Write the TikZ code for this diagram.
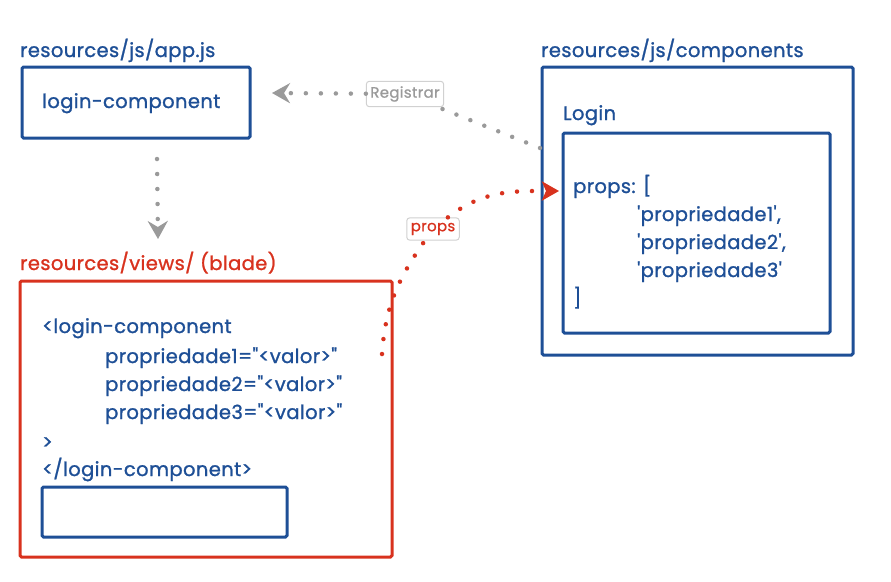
\documentclass[tikz,border=0pt]{standalone}
\usepackage{fontspec}
\setmainfont{Poppins}[Ligatures=TeXOff, FakeBold=1.2, LetterSpace=2]
\newfontfamily\tagfont{Poppins}[Ligatures=TeXOff, FakeBold=0.8, LetterSpace=2]
\usetikzlibrary{arrows.meta}
\definecolor{bblue}{HTML}{1E4F96}
\definecolor{rred}{HTML}{D8321E}
\definecolor{ggray}{HTML}{9A9A9A}
\tikzset{
  box/.style={draw=bblue, line width=3pt, rounded corners=1.5pt},
  rbox/.style={draw=rred, line width=3pt, rounded corners=1.5pt},
  txt/.style={anchor=base west, inner sep=0pt, text=bblue, font=\fontsize{19.5}{22}\selectfont},
  rtxt/.style={anchor=base west, inner sep=0pt, text=rred, font=\fontsize{19.5}{22}\selectfont},
  dots/.style={line width=4.5pt, dash pattern=on 0pt off 15pt, line cap=round},
  tag/.style={draw=black!18, fill=white, rounded corners=3pt, line width=1pt, inner xsep=4pt, inner ysep=5pt, font=\tagfont\fontsize{15}{17}\selectfont},
  tipg/.style={-{Stealth[length=18pt,width=20pt,inset=6pt]}},
}
\begin{document}
\begin{tikzpicture}[x=1pt,y=-1pt]
\useasboundingbox (0,0) rectangle (891,581);
% app.js
\node[txt] (applbl) at (20,57) {resources/js/app.js};
\draw[box] (22,67) rectangle (250,138);
\node[txt] (logincomp) at (42,108) {login-component};
% blade
\node[rtxt] (bladelbl) at (20,270) {resources/views/ (blade)};
\draw[rbox] (20,281) rectangle (392,557);
\node[txt] (l1) at (42,333) {<login-component};
\node[txt] (l2) at (105,363) {propriedade1="<valor>"};
\node[txt] (l3) at (105,391) {propriedade2="<valor>"};
\node[txt] (l4) at (105,419) {propriedade3="<valor>"};
\node[txt] (l5) at (42,449) {>};
\node[txt] (l6) at (42,476) {</login-component>};
\draw[box] (42,487) rectangle (287,537);
% components
\node[txt] (complbl) at (541,57) {resources/js/components};
\draw[box] (542,67) rectangle (853,355);
\node[txt] (loginlbl) at (563,120) {Login};
\draw[box] (563,133) rectangle (830,333);
\node[txt] (p0) at (573,193) {props: [};
\node[txt] (p1) at (637,221) {'propriedade1',};
\node[txt] (p2) at (637,249) {'propriedade2',};
\node[txt] (p3) at (637,277) {'propriedade3'};
\node[txt] (p4) at (573,305) {]};
% connectors
\coordinate (regstart) at (540,148);
\coordinate (regend) at (272,93);
\node[tag, text=ggray] (reg) at (405,94) {Registrar};
\draw[dots, ggray, tipg] (regstart) -- (reg) -- (regend);
\coordinate (downstart) at (157,159);
\coordinate (downend) at (158,239);
\draw[dots, ggray, tipg] (downstart) -- (downend);
\coordinate (propstart) at (382,354);
\coordinate (propend) at (559,191);
\node[tag, text=rred] (props) at (433,229) {props};
\draw[dots, rred, -{Stealth[length=17pt,width=19pt,inset=4pt]}] (propstart) to[out=86,in=235] (props) to[out=38,in=180] (propend);
\end{tikzpicture}
\end{document}
